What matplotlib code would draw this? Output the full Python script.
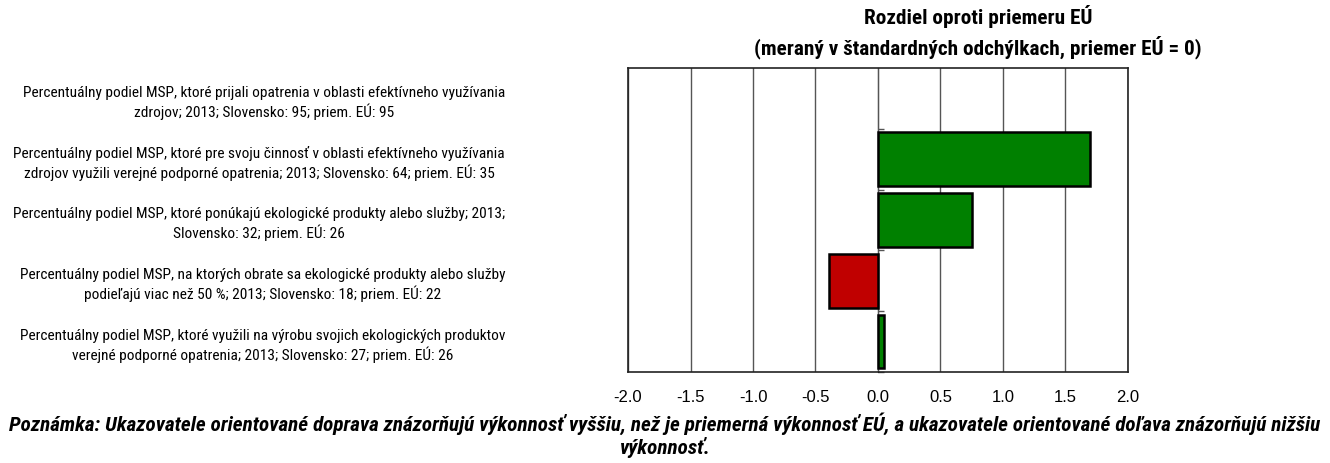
import numpy as np
import matplotlib.pyplot as plt

# Narrow fonts first, falls back if missing
COND = ["Roboto Condensed", "Liberation Sans", "DejaVu Sans"]
plt.rcParams["font.family"] = ["Liberation Sans", "DejaVu Sans"]

# Data
labels = [
    "Percentuálny podiel MSP, ktoré prijali opatrenia v oblasti efektívneho využívania\nzdrojov; 2013; Slovensko: 95; priem. EÚ: 95",
    "Percentuálny podiel MSP, ktoré pre svoju činnosť v oblasti efektívneho využívania\nzdrojov využili verejné podporné opatrenia; 2013; Slovensko: 64; priem. EÚ: 35",
    "Percentuálny podiel MSP, ktoré ponúkajú ekologické produkty alebo služby; 2013;\nSlovensko: 32; priem. EÚ: 26",
    "Percentuálny podiel MSP, na ktorých obrate sa ekologické produkty alebo služby\npodieľajú viac než 50 %; 2013; Slovensko: 18; priem. EÚ: 22",
    "Percentuálny podiel MSP, ktoré využili na výrobu svojich ekologických produktov\nverejné podporné opatrenia; 2013; Slovensko: 27; priem. EÚ: 26",
]
values = [0.0, 1.70, 0.75, -0.39, 0.05]
xticks = [-2.0, -1.5, -1.0, -0.5, 0.0, 0.5, 1.0, 1.5, 2.0]

colors = ["#008000" if v >= 0 else "#C00000" for v in values]
edges = [1.8 if v != 0 else 0 for v in values]
ypos = np.arange(len(values))

fig = plt.figure(figsize=(13.3, 4.64), dpi=100)
ax = fig.add_axes([628 / 1330, 1 - 373 / 464, 500 / 1330, 304 / 464])

ax.barh(ypos, values, height=0.88, color=colors, edgecolor="black", linewidth=edges, zorder=3)
ax.set_xlim(-2.0, 2.0)
ax.set_ylim(len(values) - 0.5, -0.5)

ax.set_xticks(xticks)
ax.set_xticklabels([f"{t:.1f}" for t in xticks], fontsize=12)
ax.tick_params(axis="x", length=0, pad=12)
ax.grid(axis="x", color="#555555", linewidth=1.0, zorder=0)

ax.set_yticks(ypos)
ax.set_yticklabels(labels, fontsize=10.5, family=COND,
                   ha="right", multialignment="center", linespacing=1.25)
ax.tick_params(axis="y", length=0, pad=88.5)

for s in ax.spines.values():
    s.set_color("#222222")
    s.set_linewidth(1.2)

# little ticks on the zero axis between categories
sec = ax.secondary_yaxis(0.5)
sec.set_yticks(ypos + 0.5)
sec.set_yticklabels([])
sec.tick_params(length=4, width=1, color="#555555")
sec.spines["left"].set_visible(False)

title = fig.text(978 / 1330, 1 - 32 / 464,
                 "Rozdiel oproti priemeru EÚ\n(meraný v štandardných odchýlkach, priemer EÚ = 0)",
                 ha="center", va="center", fontsize=12, fontweight="bold",
                 family=COND, linespacing=1.35)

note = fig.text(0.5, 1 - 435 / 464,
                "Poznámka: Ukazovatele orientované doprava znázorňujú výkonnosť vyššiu, než je priemerná výkonnosť EÚ, a ukazovatele orientované doľava znázorňujú nižšiu\nvýkonnosť.",
                ha="center", va="center", fontsize=12, fontweight="bold", style="italic",
                family=COND, linespacing=1.1)

# Scale the narrow texts so their widest line matches the reference width
fig.canvas.draw()
r = fig.canvas.get_renderer()
for t, w in [(title, 450), (note, 1314)]:
    t.set_fontsize(t.get_fontsize() * w / t.get_window_extent(r).width)
ylabs = ax.get_yticklabels()
widest = max(t.get_window_extent(r).width for t in ylabs)
for t in ylabs:
    t.set_fontsize(t.get_fontsize() * 497 / widest)

fig.savefig("out.png", dpi=100)
